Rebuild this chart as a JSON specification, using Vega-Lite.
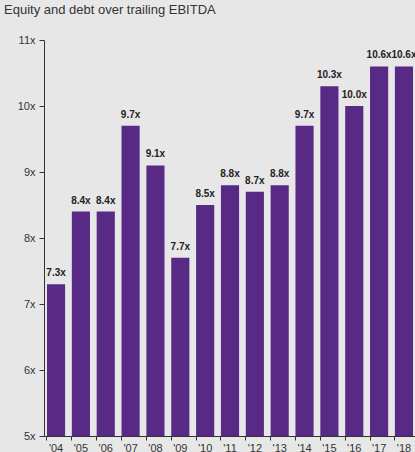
{
  "$schema": "https://vega.github.io/schema/vega-lite/v6.json",
  "width": 372,
  "height": 396,
  "autosize": "none",
  "padding": {"left": 44, "top": 40, "right": 0, "bottom": 16},
  "background": "#e7e7e7",
  "title": {
    "text": "Equity and debt over trailing EBITDA",
    "anchor": "start",
    "frame": "group",
    "dx": -40,
    "offset": 17,
    "font": "Liberation Sans",
    "fontSize": 13,
    "fontWeight": "normal",
    "color": "#333333"
  },
  "config": {
    "view": {"stroke": null},
    "axis": {"labelFont": "Liberation Sans", "labelFontSize": 11, "labelColor": "#333333", "domainColor": "#333333", "tickColor": "#333333", "grid": false, "title": null}
  },
  "data": {
    "values": [
      {"year": "'04", "value": 7.3},
      {"year": "'05", "value": 8.4},
      {"year": "'06", "value": 8.4},
      {"year": "'07", "value": 9.7},
      {"year": "'08", "value": 9.1},
      {"year": "'09", "value": 7.7},
      {"year": "'10", "value": 8.5},
      {"year": "'11", "value": 8.8},
      {"year": "'12", "value": 8.7},
      {"year": "'13", "value": 8.8},
      {"year": "'14", "value": 9.7},
      {"year": "'15", "value": 10.3},
      {"year": "'16", "value": 10.0},
      {"year": "'17", "value": 10.6},
      {"year": "'18", "value": 10.6}
    ]
  },
  "transform": [{"calculate": "format(datum.value, '.1f') + 'x'", "as": "label"}],
  "encoding": {
    "x": {
      "field": "year",
      "type": "ordinal",
      "sort": null,
      "scale": {"paddingInner": 0.27, "paddingOuter": 0.12},
      "axis": {"labelAngle": 0, "bandPosition": 0, "tickSize": 4, "labelPadding": 2}
    }
  },
  "layer": [
    {
      "mark": {"type": "bar", "color": "#592a85"},
      "encoding": {
        "y": {
          "field": "value",
          "type": "quantitative",
          "scale": {"domain": [5, 11], "zero": false},
          "axis": {"values": [5, 6, 7, 8, 9, 10, 11], "labelExpr": "datum.value + 'x'", "tickSize": 5, "labelPadding": 4}
        },
        "y2": {"datum": 5}
      }
    },
    {
      "mark": {"type": "text", "dy": -11, "font": "Liberation Sans", "fontSize": 10, "fontWeight": "bold", "color": "#222222"},
      "encoding": {
        "y": {"field": "value", "type": "quantitative"},
        "text": {"field": "label"}
      }
    }
  ]
}
